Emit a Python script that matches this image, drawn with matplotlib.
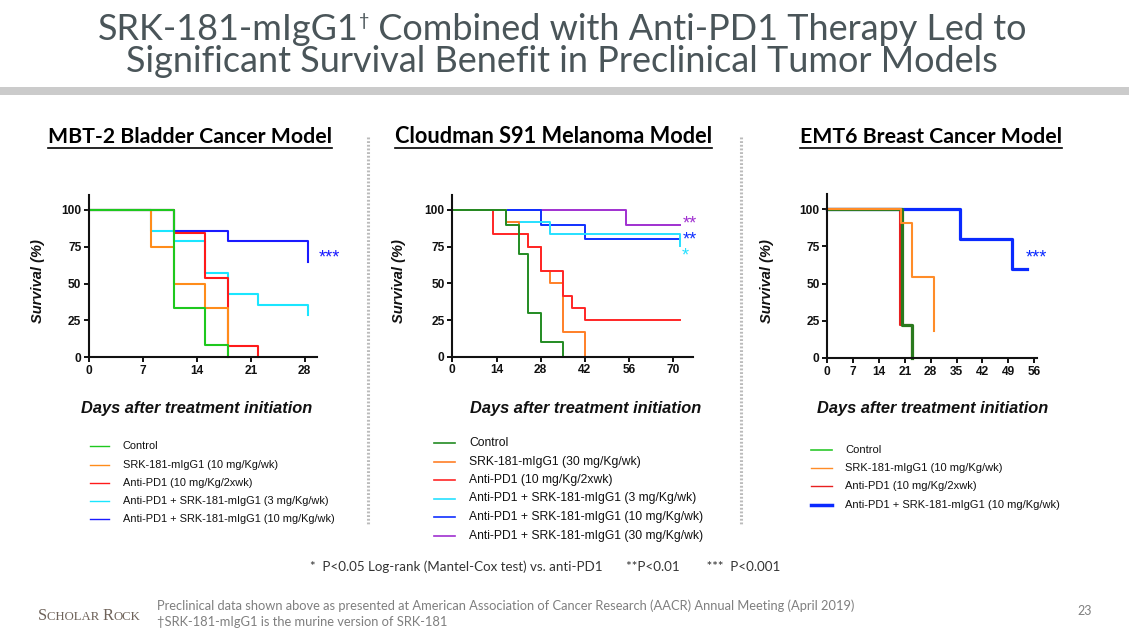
import matplotlib
matplotlib.use('Agg')
import matplotlib.pyplot as plt
from matplotlib.lines import Line2D
from matplotlib.patches import Rectangle

# ---------------- data ----------------
# Panel 1: MBT-2 Bladder Cancer Model (days, survival %)
mbt_labels = ["Control", "SRK-181-mIgG1 (10 mg/Kg/wk)", "Anti-PD1 (10 mg/Kg/2xwk)",
              "Anti-PD1 + SRK-181-mIgG1 (3 mg/Kg/wk)", "Anti-PD1 + SRK-181-mIgG1 (10 mg/Kg/wk)"]
mbt_colors = ['#1EC81E', '#FF8C1A', '#FF1A1A', '#1AE6FF', '#1A1AFF']
mbt_control_t = [0, 11, 15, 18]
mbt_control_s = [100, 33.3, 8.3, 0]
mbt_srk_t = [0, 8, 11, 15, 18]
mbt_srk_s = [100, 75, 50, 33.3, 0]
mbt_pd1_t = [0, 11, 15, 18, 22]
mbt_pd1_s = [100, 84.6, 53.8, 7.7, 0]
mbt_combo3_t = [0, 8, 11, 15, 18, 22, 28.4]
mbt_combo3_s = [100, 85.7, 78.6, 57.1, 42.9, 35.7, 28.6]
mbt_combo10_t = [0, 11, 18, 28.4]
mbt_combo10_s = [100, 85.7, 78.6, 64.3]
mbt_xticks = [0, 7, 14, 21, 28]

# Panel 2: Cloudman S91 Melanoma Model
s91_labels = ["Control", "SRK-181-mIgG1 (30 mg/Kg/wk)", "Anti-PD1 (10 mg/Kg/2xwk)",
              "Anti-PD1 + SRK-181-mIgG1 (3 mg/Kg/wk)", "Anti-PD1 + SRK-181-mIgG1 (10 mg/Kg/wk)",
              "Anti-PD1 + SRK-181-mIgG1 (30 mg/Kg/wk)"]
s91_colors = ['#228B22', '#FF7F27', '#FF2626', '#26E0FF', '#1030FF', '#A030D0']
s91_control_t = [0, 17, 21, 24, 28, 35]
s91_control_s = [100, 90, 70, 30, 10, 0]
s91_srk_t = [0, 17, 21, 24, 28, 31, 35, 42]
s91_srk_s = [100, 91.7, 83.3, 75, 58.3, 50, 16.7, 0]
s91_pd1_t = [0, 13, 24, 28, 35, 38, 42, 72]
s91_pd1_s = [100, 83.3, 75, 58.3, 41.7, 33.3, 25, 25]
s91_combo3_t = [0, 17, 31, 72]
s91_combo3_s = [100, 91.7, 83.3, 75.5]
s91_combo10_t = [0, 28, 42, 72]
s91_combo10_s = [100, 90, 80, 80]
s91_combo30_t = [0, 55, 72]
s91_combo30_s = [100, 90, 90]
s91_xticks = [0, 14, 28, 42, 56, 70]

# Panel 3: EMT6 Breast Cancer Model
emt_labels = ["Control", "SRK-181-mIgG1 (10 mg/Kg/wk)", "Anti-PD1 (10 mg/Kg/2xwk)",
              "Anti-PD1 + SRK-181-mIgG1 (10 mg/Kg/wk)"]
emt_colors = ['#2A7A1E', '#FF8C28', '#E82020', '#0A2AFF']
emt_legend_colors = ['#2CC82C', '#FF8C28', '#E82020', '#0A2AFF']
emt_control_t = [0, 20.2, 23]
emt_control_s = [100, 22.2, 0]
emt_srk_t = [0, 20, 23, 29]
emt_srk_s = [100, 90.9, 54.5, 18.2]
emt_pd1_t = [0, 19.8, 22.8]
emt_pd1_s = [100, 22.2, 0]
emt_combo_t = [0, 36, 50, 54]
emt_combo_s = [100, 80, 60, 60]
emt_xticks = [0, 7, 14, 21, 28, 35, 42, 49, 56]

yticks = [0, 25, 50, 75, 100]

# ---------------- figure ----------------
W, H = 1129, 635
fig = plt.figure(figsize=(W / 100, H / 100), dpi=100)
fig.patch.set_facecolor('white')
R = fig.canvas.get_renderer()

def fx(x):
    return x / W

def fy(y):
    return 1 - y / H

def fit(t, target_w):
    w = t.get_window_extent(R).width
    t.set_fontsize(t.get_fontsize() * target_w / w)
    return t

SLIDE = ['Lato', 'DejaVu Sans']
ARIAL = ['Liberation Sans', 'DejaVu Sans']
TICKFS = 8.6

def make_axes(l, r, y0, y100, xmax):
    top = y0 - (y0 - y100) * 1.10
    ax = fig.add_axes([fx(l), fy(y0), (r - l) / W, (y0 - top) / H])
    ax.set_xlim(0, xmax)
    ax.set_ylim(0, 110)
    for s in ['top', 'right']:
        ax.spines[s].set_visible(False)
    for s in ['left', 'bottom']:
        ax.spines[s].set_linewidth(1.5)
        ax.spines[s].set_color('#111111')
    ax.set_yticks(yticks)
    ax.tick_params(direction='out', length=3.5, width=1.4, pad=2, colors='#111111')
    ax.patch.set_alpha(0)
    return ax

def style_ticks(ax):
    for lab in ax.get_xticklabels() + ax.get_yticklabels():
        lab.set_family(ARIAL)
        lab.set_fontweight('bold')
        lab.set_fontsize(TICKFS)

def stars(ax, x, y, s, color, fs=13):
    ax.annotate(s, xy=(x, y), xytext=(0, -0.58 * fs), textcoords='offset points',
                ha='center', va='baseline', color=color, fontsize=fs,
                family=ARIAL, annotation_clip=False)

def ylabel(ax, xfrac):
    ax.set_ylabel('Survival (%)', family=ARIAL, fontweight='bold', style='italic',
                  fontsize=10.5, color='#111111')
    ax.yaxis.set_label_coords(xfrac, 0.47)

# Panel 1
ax1 = make_axes(89, 317, 357, 210, 29.6)
ax1.set_xticks(mbt_xticks)
style_ticks(ax1)
series1 = [(mbt_combo10_t, mbt_combo10_s, 4), (mbt_combo3_t, mbt_combo3_s, 3),
           (mbt_pd1_t, mbt_pd1_s, 2), (mbt_srk_t, mbt_srk_s, 1),
           (mbt_control_t, mbt_control_s, 0)]
for t, s, i in series1:
    ax1.step(t, s, where='post', color=mbt_colors[i], lw=1.5, clip_on=False)
stars(ax1, 31.2, 71.6, '***', mbt_colors[4])
ylabel(ax1, -0.193)

# Panel 2
ax2 = make_axes(452.3, 693, 356.7, 210, 76.2)
ax2.set_xticks(s91_xticks)
style_ticks(ax2)
series2 = [(s91_combo30_t, s91_combo30_s, 5), (s91_combo10_t, s91_combo10_s, 4),
           (s91_combo3_t, s91_combo3_s, 3), (s91_srk_t, s91_srk_s, 1),
           (s91_pd1_t, s91_pd1_s, 2), (s91_control_t, s91_control_s, 0)]
for t, s, i in series2:
    ax2.step(t, s, where='post', color=s91_colors[i], lw=1.4, clip_on=False)
stars(ax2, 75.3, 94.3, '**', s91_colors[5])
stars(ax2, 75.3, 83.4, '**', s91_colors[4])
stars(ax2, 73.9, 72.7, '*', s91_colors[3])
ylabel(ax2, -0.192)

# Panel 3
ax3 = make_axes(827.3, 1036.7, 358, 209.3, 56.7)
ax3.set_xticks(emt_xticks)
style_ticks(ax3)
series3 = [(emt_combo_t, emt_combo_s, 3, 2.3), (emt_pd1_t, emt_pd1_s, 2, 1.5),
           (emt_control_t, emt_control_s, 0, 2.3), (emt_srk_t, emt_srk_s, 1, 1.5)]
for t, s, i, lw in series3:
    ax3.step(t, s, where='post', color=emt_colors[i], lw=lw, clip_on=False)
stars(ax3, 56.7, 71.5, '***', emt_colors[3])
ylabel(ax3, -0.255)

# x labels
for cx in [196.5, 585.5, 932.5]:
    t = fig.text(fx(cx), fy(413), 'Days after treatment initiation', ha='center', va='baseline',
                 family=ARIAL, fontweight='bold', style='italic', fontsize=10.5, color='#111111')
    fit(t, 232)

# legends
def legend(x0, x1, xt, ys, labels, colors, lws, target_w):
    txts = []
    for y, lab, c, lw in zip(ys, labels, colors, lws):
        fig.add_artist(Line2D([fx(x0), fx(x1)], [fy(y), fy(y)], transform=fig.transFigure,
                              color=c, lw=lw))
        txts.append(fig.text(fx(xt), fy(y), lab, ha='left', va='center', family=ARIAL,
                             fontsize=7.5, color='#111111'))
    longest = max(txts, key=lambda t: t.get_window_extent(R).width)
    fit(longest, target_w)
    for t in txts:
        t.set_fontsize(longest.get_fontsize())

legend(90, 109, 123, [446, 464.5, 482.5, 500.5, 519], mbt_labels, mbt_colors,
       [1.0] * 5, 211)
legend(434, 455, 469, [443, 461.5, 480, 498.5, 517, 536], s91_labels, s91_colors,
       [1.2] * 6, 233)
legend(811, 832, 845, [450, 468, 486, 504.5], emt_labels, emt_legend_colors,
       [1.2, 1.0, 1.0, 2.5], 215)

# panel titles with underline
for cx, txt, w in [(189.5, 'MBT-2 Bladder Cancer Model', 285),
                   (553.5, 'Cloudman S91 Melanoma Model', 317),
                   (931, 'EMT6 Breast Cancer Model', 263)]:
    t = fig.text(fx(cx), fy(143), txt, ha='center', va='baseline', family=SLIDE,
                 fontweight='bold', fontsize=15, color='#000000')
    fit(t, w)
    bb = t.get_window_extent(R)
    fig.add_artist(Line2D([bb.x0 / W, bb.x1 / W], [fy(147.5), fy(147.5)],
                          transform=fig.transFigure, color='#000000', lw=1.2))

# dotted separators
for sx in [368, 741]:
    fig.add_artist(Line2D([fx(sx), fx(sx)], [fy(137), fy(525)], transform=fig.transFigure,
                          color='#BBBBBB', lw=2.2, linestyle=(0, (0.6, 0.6))))

# main title
tc = '#4A5559'
t2 = fig.text(fx(561.5), fy(72), 'Significant Survival Benefit in Preclinical Tumor Models',
              ha='center', va='baseline', family=SLIDE, fontsize=24, color=tc)
fit(t2, 871)
fs = t2.get_fontsize()
pa = fig.text(0, fy(40), 'SRK-181-mIgG1', ha='left', va='baseline', family=SLIDE,
              fontsize=fs, color=tc)
pd = fig.text(0, fy(26), '\u2020', ha='left', va='baseline', family=SLIDE,
              fontsize=fs * 0.5, color=tc)
pb = fig.text(0, fy(40), ' Combined with Anti-PD1 Therapy Led to', ha='left', va='baseline',
              family=SLIDE, fontsize=fs, color=tc)
wa = pa.get_window_extent(R).width
wd = pd.get_window_extent(R).width
wb = pb.get_window_extent(R).width
start = 562.5 - (wa + wd + wb) / 2
pa.set_x(fx(start))
pd.set_x(fx(start + wa))
pb.set_x(fx(start + wa + wd))

# gray band under title
fig.add_artist(Rectangle((0, fy(95)), 1, 8 / H, transform=fig.transFigure,
                         facecolor='#CBCBCB', edgecolor='none'))

# footnotes
tp = fig.text(fx(310), fy(571), '*  P<0.05 Log-rank (Mantel-Cox test) vs. anti-PD1       **P<0.01        ***  P<0.001',
              ha='left', va='baseline', family=SLIDE, fontsize=9, color='#333333')
fit(tp, 475)
t1 = fig.text(fx(157), fy(610), 'Preclinical data shown above as presented at American Association of Cancer Research (AACR) Annual Meeting (April 2019)',
              ha='left', va='baseline', family=SLIDE, fontsize=8.5, color='#7F7F7F')
fit(t1, 705)
fig.text(fx(157), fy(626), '\u2020SRK-181-mIgG1 is the murine version of SRK-181',
         ha='left', va='baseline', family=SLIDE, fontsize=t1.get_fontsize(), color='#7F7F7F')
fig.text(fx(1085), fy(615), '23', ha='center', va='baseline', family=SLIDE,
         fontsize=9, color='#7F7F7F')

# logo text in small caps
logo_c = '#6E6259'
x = 38
big, small = 11.8, 9.2
for piece, size in [('S', big), ('CHOLAR ', small), ('R', big), ('OCK', small)]:
    tt = fig.text(fx(x), fy(620), piece, ha='left', va='baseline', family=['Liberation Serif'],
                  fontsize=size, color=logo_c)
    x += tt.get_window_extent(R).width

fig.savefig('out.png', dpi=100, facecolor='white')
